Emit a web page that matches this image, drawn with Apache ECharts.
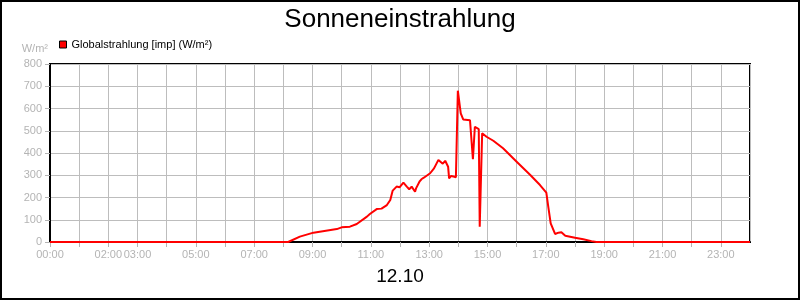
<!DOCTYPE html>
<html>
<head>
<meta charset="utf-8">
<script src="https://cdn.jsdelivr.net/npm/echarts@6/dist/echarts.min.js"></script>
<style>html,body{margin:0;padding:0;background:#fff}#c{width:800px;height:300px}</style>
</head>
<body>
<div id="c"></div>
<script>
var titleText = 'Sonneneinstrahlung';
var dateText = '12.10';
var seriesName = 'Globalstrahlung [imp] (W/m²)';
var unitText = 'W/m²';
var xTickLabels = ['00:00','02:00','03:00','05:00','07:00','09:00','11:00','13:00','15:00','17:00','19:00','21:00','23:00'];
var yTicks = [0,100,200,300,400,500,600,700,800];
var times = ['00:00','08:10','08:14','08:34','09:02','09:50','10:00','10:17','10:31','10:52','10:58','11:12','11:22','11:33','11:40','11:45','11:53','11:59','12:07','12:14','12:19','12:24','12:31','12:33','12:40','12:44','12:49','12:53','13:02','13:10','13:19','13:22','13:28','13:33','13:36','13:39','13:41','13:45','13:50','13:55','13:59','14:05','14:10','14:24','14:28','14:30','14:34','14:38','14:42','14:44','14:49','14:52','14:58','15:12','15:32','16:00','16:28','16:48','17:01','17:05','17:10','17:19','17:26','17:32','17:40','17:50','18:00','18:17','18:34','18:44','24:00'];
var values = [0,0,5,24,42,58,66,69,81,114,126,148,150,166,189,231,249,246,267,249,237,249,226,241,271,282,289,282,309,331,369,361,352,365,361,338,286,297,294,291,680,578,551,547,541,372,518,515,507,69,489,489,473,455,421,361,301,256,222,159,84,36,42,44,28,24,19,12,4,0,0];

function toMin(t){var p=t.split(':');return (+p[0])*60+(+p[1]);}
function pad(n){return (n<10?'0':'')+n;}
var data = times.map(function(t,i){return [toMin(t), values[i]];});

var FONT = 'Liberation Sans, Arial, sans-serif';
var chart = echarts.init(document.getElementById('c'), null, {renderer:'canvas'});
chart.setOption({
  animation:false,
  backgroundColor:'#fff',
  title:{text:titleText,left:'center',top:2,textStyle:{fontFamily:FONT,fontSize:26,fontWeight:'normal',color:'#000'}},
  legend:{left:54,top:34,icon:'rect',itemWidth:7,itemHeight:7,
    textStyle:{fontFamily:FONT,fontSize:11,color:'#000'},
    data:[{name:seriesName,itemStyle:{color:'#ff0000',borderColor:'#000',borderWidth:1}}]},
  grid:{left:50,right:50,top:64,bottom:58,show:true,borderColor:'#000',borderWidth:2,containLabel:false},
  xAxis:{type:'value',min:0,max:1440,interval:60,
    name:dateText,nameLocation:'middle',nameGap:25,
    nameTextStyle:{fontFamily:FONT,fontSize:19,color:'#000'},
    axisLine:{show:true,lineStyle:{color:'#000',width:2}},
    axisTick:{show:true,length:5,lineStyle:{color:'#b4b4b4'}},
    axisLabel:{margin:7,fontFamily:FONT,fontSize:11,color:'#b4b4b4',showMaxLabel:false,
      formatter:function(v){var s=pad(Math.floor(v/60))+':'+pad(v%60);return xTickLabels.indexOf(s)>=0?s:'';}},
    splitLine:{show:true,lineStyle:{color:'#bdbdbd',width:1}}},
  yAxis:{type:'value',min:yTicks[0],max:yTicks[yTicks.length-1],interval:100,
    name:unitText,nameLocation:'end',nameGap:10,
    nameTextStyle:{fontFamily:FONT,fontSize:11,color:'#b4b4b4',align:'right',padding:[0,2,0,0]},
    axisLine:{show:true,lineStyle:{color:'#000',width:2}},
    axisTick:{show:true,length:5,lineStyle:{color:'#b4b4b4'}},
    axisLabel:{margin:8,fontFamily:FONT,fontSize:11,color:'#b4b4b4'},
    splitLine:{show:true,lineStyle:{color:'#bdbdbd',width:1}}},
  series:[{name:seriesName,type:'line',data:data,showSymbol:false,symbol:'none',
    lineStyle:{color:'#ff0000',width:2},itemStyle:{color:'#ff0000'},z:5}],
  graphic:[{type:'rect',shape:{x:1,y:1,width:798,height:298},style:{fill:'none',stroke:'#000',lineWidth:2},z:100}]
});
</script>
</body>
</html>
